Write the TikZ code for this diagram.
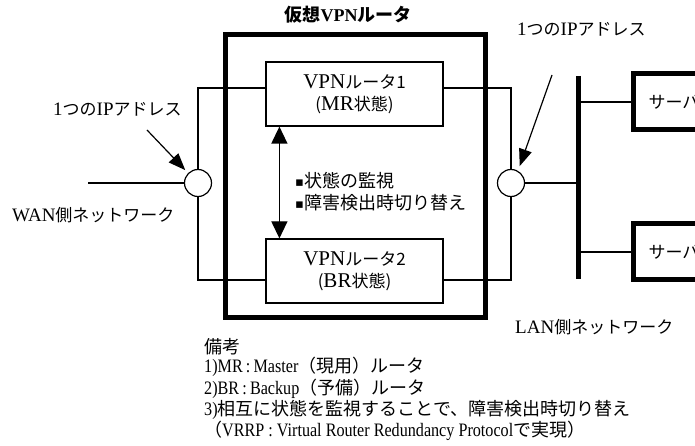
\documentclass[tikz,border=0pt]{standalone}
\usepackage{fontspec}
\setmainfont{Liberation Serif}
\newfontfamily\lc{Liberation Serif}[FakeStretch=0.85]
\newfontfamily\jp{Noto Sans CJK JP}
\newfontfamily\dv{DejaVu Sans}
\usetikzlibrary{arrows.meta}
\newcommand{\jpf}[1]{{\jp\fontsize{17bp}{22bp}\selectfont #1}}
\newcommand{\jpn}[1]{{\jp\fontsize{18bp}{22bp}\selectfont #1}}
\newcommand{\bul}{\raisebox{1.5bp}{\dv\fontsize{13bp}{13bp}\selectfont ▪}}
\begin{document}
\begin{tikzpicture}[x=1bp,y=-1bp,
  thinl/.style={line width=1.2bp},
  thickl/.style={line width=5bp},
  txt/.style={inner sep=0pt, font=\fontsize{19bp}{22bp}\selectfont},
  note/.style={inner sep=0pt, font=\fontsize{19bp}{22bp}\selectfont\lc},
  boxn/.style={draw, thinl, inner sep=0pt, minimum width=177bp, minimum height=64bp, align=center, font=\fontsize{21bp}{22bp}\selectfont},
  srv/.style={draw, thickl, inner sep=0pt, minimum width=82bp, minimum height=56bp, font=\fontsize{17bp}{22bp}\selectfont\jp},
  ifc/.style={draw, thinl, circle, inner sep=0pt, minimum size=27bp},
  bigtip/.style={{Triangle[width=16bp,length=17bp]}-{Triangle[width=16bp,length=17bp]}},
  iptip/.style={-{Triangle[width=13bp,length=17bp]}}]
\useasboundingbox (0,0) rectangle (695,446);
\clip (0,0) rectangle (695,446);
% virtual router frame
\node[draw, thickl, inner sep=0pt, minimum width=260bp, minimum height=282bp] (vbox) at (355,176) {};
\node[inner sep=0pt, anchor=base, font=\fontsize{18bp}{22bp}\selectfont\bfseries] (title) at (348,22) {{\jp 仮想}VPN{\jp ルータ}};
% routers
\node[boxn] (r1) at (354.5,94) {VPN\jpf{ルータ1}\\\jpf{(}MR\jpf{状態)}};
\node[boxn] (r2) at (354.5,271) {VPN\jpf{ルータ2}\\\jpf{(}BR\jpf{状態)}};
% interfaces
\node[ifc] (c1) at (198,183) {};
\node[ifc] (c2) at (511,183) {};
% bus and servers
\coordinate (bt) at (578,76);
\coordinate (bb) at (578,279);
\draw[thickl] (bt) -- (bb);
\node[srv] (s1) at (674,102) {サーバ};
\node[srv] (s2) at (674,252) {サーバ};
% connections
\coordinate (wan) at (88,183);
\draw[thinl] (wan) -- (c1.west);
\draw[thinl] (c1.north) |- ([yshift=6bp]r1.west);
\draw[thinl] (c1.south) |- ([yshift=-9bp]r2.west);
\draw[thinl] ([yshift=6bp]r1.east) -| (c2.north);
\draw[thinl] ([yshift=-9bp]r2.east) -| (c2.south);
\draw[thinl] (c2.east) -- (c2.east -| bt);
\draw[thinl] (s1.west -| bt) -- (s1.west);
\draw[thinl] (s2.west -| bt) -- (s2.west);
% monitoring arrow
\draw[thinl, bigtip] ([xshift=14bp]r1.south west) -- ([xshift=14bp]r2.north west);
\node[txt, anchor=west, align=left] (mon) at (295,192) {\bul\jpn{状態の監視}\\\bul\jpn{障害検出時切り替え}};
% IP labels
\node[txt, anchor=base west] (ipl) at (53,116) {1\jpf{つの}IP\jpf{アドレス}};
\coordinate (ipla) at (147,130);
\draw[thinl, iptip, shorten >=4bp] (ipla) -- (c1.135);
\node[txt, anchor=base west] (ipr) at (517,36) {1\jpf{つの}IP\jpf{アドレス}};
\coordinate (ipra) at (552,75);
\draw[thinl, iptip, shorten >=5bp] (ipra) -- (c2.60);
% network labels
\node[txt, anchor=base west] (wanl) at (12,222) {WAN\jpf{側ネットワーク}};
\node[txt, anchor=base west] (lanl) at (515,334) {LAN\jpf{側ネットワーク}};
% notes
\node[note, anchor=base west] (n0) at (204,353) {\jpn{備考}};
\node[note, anchor=base west] (n1) at (204,372) {1)MR\,:\,Master\jpn{（現用）ルータ}};
\node[note, anchor=base west] (n2) at (204,394) {2)BR\,:\,Backup\jpn{（予備）ルータ}};
\node[note, anchor=base west] (n3) at (204,415) {3)\jpn{相互に状態を監視することで、障害検出時切り替え}};
\node[note, anchor=base west] (n4) at (204,436) {\jpn{（}VRRP : Virtual Router Redundancy Protocol\jpn{で実現）}};
\end{tikzpicture}
\end{document}
